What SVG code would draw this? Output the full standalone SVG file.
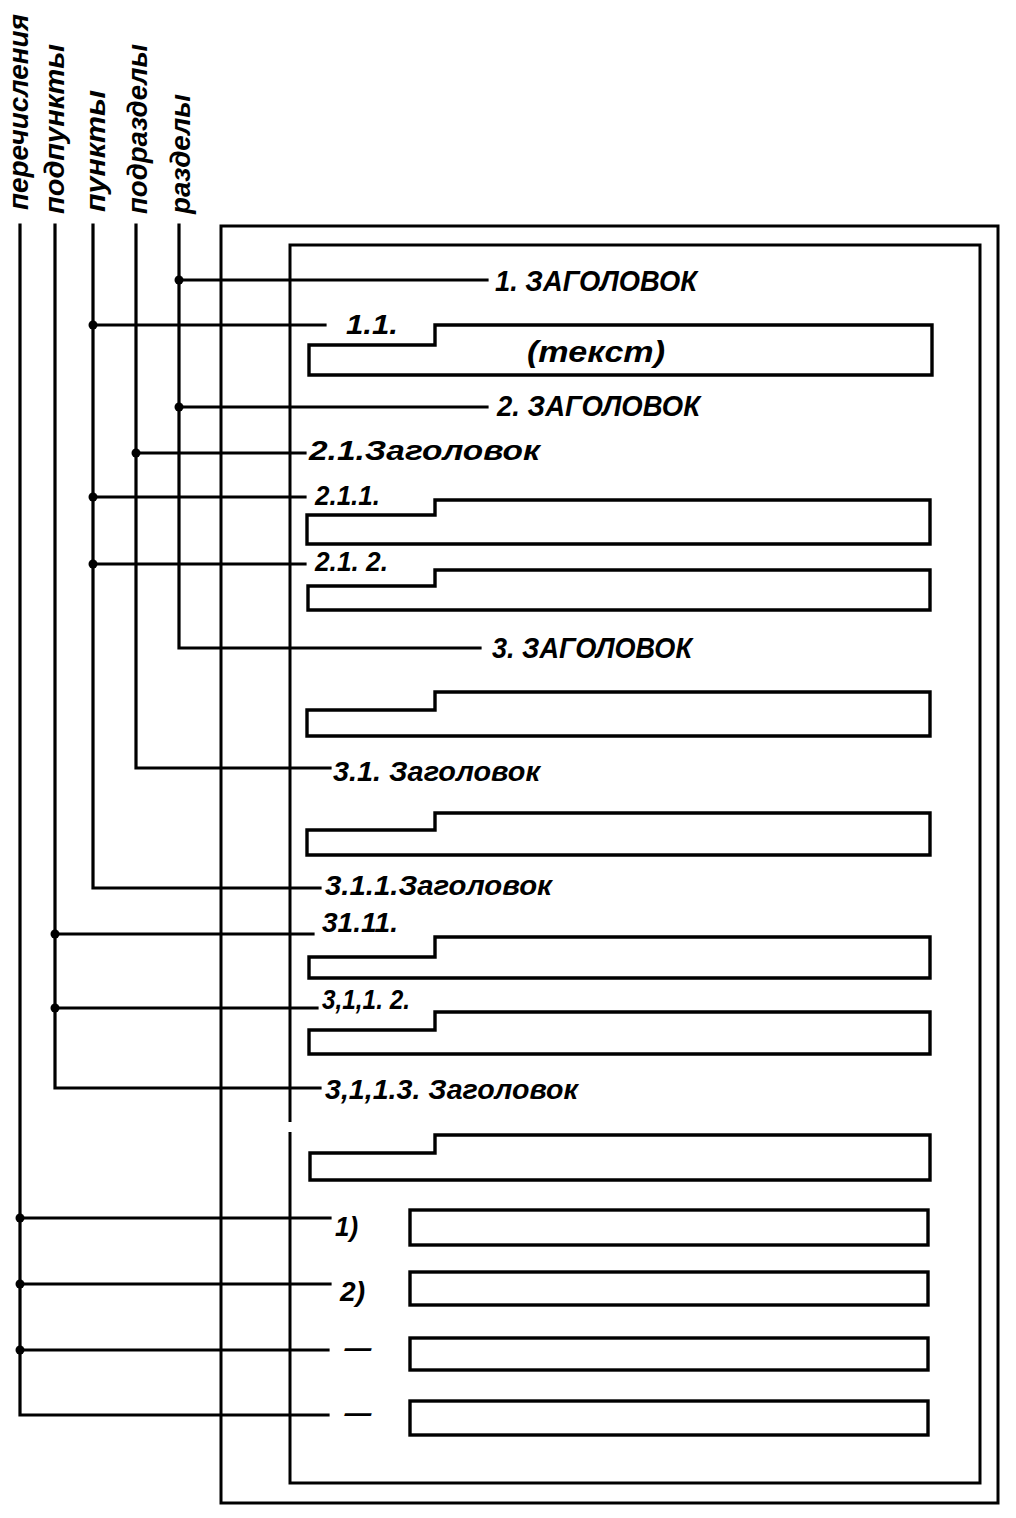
<svg xmlns="http://www.w3.org/2000/svg" width="1016" height="1518" viewBox="0 0 1016 1518">
<style>
.t{font-family:"Liberation Sans",Arial,sans-serif;font-style:italic;font-weight:bold;fill:#000}
.h{font-size:29px}
.s{font-size:27px}
.v{font-size:28px}
.ln{stroke:#000;stroke-width:3.2;fill:none;stroke-linecap:square}
.fr{stroke:#000;stroke-width:3;fill:none}
.bx{stroke:#000;stroke-width:3.4;fill:none;stroke-linejoin:miter}
.dot{fill:#000}
</style>
<rect width="1016" height="1518" fill="#fff"/>
<g id="labels">
<text class="t v" transform="translate(28,210) rotate(-90)" textLength="196" lengthAdjust="spacingAndGlyphs">перечисления</text>
<text class="t v" transform="translate(64,214) rotate(-90)" textLength="170" lengthAdjust="spacingAndGlyphs">подпункты</text>
<text class="t v" transform="translate(105,212) rotate(-90)" textLength="122" lengthAdjust="spacingAndGlyphs">пункты</text>
<text class="t v" transform="translate(147,214) rotate(-90)" textLength="170" lengthAdjust="spacingAndGlyphs">подразделы</text>
<text class="t v" transform="translate(190,214) rotate(-90)" textLength="120" lengthAdjust="spacingAndGlyphs">разделы</text>
</g>
<g id="frame">
<rect class="fr" x="221" y="226" width="777" height="1277"/>
<path class="fr" d="M290 1122 V245 H980 V1483 H290 V1132"/>
</g>
<g id="connectors">
<path class="ln" d="M20 225 V1415 H328"/>
<path class="ln" d="M55 225 V1088 H320"/>
<path class="ln" d="M93 225 V888 H320"/>
<path class="ln" d="M136 225 V768 H330"/>
<path class="ln" d="M179 225 V648 H480"/>
<path class="ln" d="M179 280 H487"/>
<path class="ln" d="M93 325 H325"/>
<path class="ln" d="M179 407 H487"/>
<path class="ln" d="M136 453 H305"/>
<path class="ln" d="M93 497 H305"/>
<path class="ln" d="M93 564 H305"/>
<path class="ln" d="M55 934 H313"/>
<path class="ln" d="M55 1008 H317"/>
<path class="ln" d="M20 1218 H330"/>
<path class="ln" d="M20 1284 H330"/>
<path class="ln" d="M20 1350 H328"/>
<circle class="dot" cx="179" cy="280" r="4.5"/>
<circle class="dot" cx="93" cy="325" r="4.5"/>
<circle class="dot" cx="179" cy="407" r="4.5"/>
<circle class="dot" cx="136" cy="453" r="4.5"/>
<circle class="dot" cx="93" cy="497" r="4.5"/>
<circle class="dot" cx="93" cy="564" r="4.5"/>
<circle class="dot" cx="55" cy="934" r="4.5"/>
<circle class="dot" cx="55" cy="1008" r="4.5"/>
<circle class="dot" cx="20" cy="1218" r="4.5"/>
<circle class="dot" cx="20" cy="1284" r="4.5"/>
<circle class="dot" cx="20" cy="1350" r="4.5"/>
</g>
<g id="n1"><text class="t h" x="495" y="291" textLength="202" lengthAdjust="spacingAndGlyphs">1. ЗАГОЛОВОК</text></g>
<g id="n1-1">
<text class="t s" x="346" y="334" textLength="52" lengthAdjust="spacingAndGlyphs">1.1.</text>
<path class="bx" d="M309 345 H435 V325 H932 V375 H309 Z"/>
<text class="t h" x="527" y="362" textLength="138" lengthAdjust="spacingAndGlyphs">(текст)</text>
</g>
<g id="n2"><text class="t h" x="497" y="416" textLength="203" lengthAdjust="spacingAndGlyphs">2. ЗАГОЛОВОК</text></g>
<g id="n2-1"><text class="t s" x="309" y="460" textLength="231" lengthAdjust="spacingAndGlyphs">2.1.Заголовок</text></g>
<g id="n2-1-1">
<text class="t s" x="315" y="505" textLength="65" lengthAdjust="spacingAndGlyphs">2.1.1.</text>
<path class="bx" d="M307 515 H435 V500 H930 V544 H307 Z"/>
</g>
<g id="n2-1-2">
<text class="t s" x="315" y="571" textLength="73" lengthAdjust="spacingAndGlyphs">2.1. 2.</text>
<path class="bx" d="M308 586 H435 V570 H930 V610 H308 Z"/>
</g>
<g id="n3"><text class="t h" x="492" y="658" textLength="200" lengthAdjust="spacingAndGlyphs">3. ЗАГОЛОВОК</text></g>
<g id="n3-text"><path class="bx" d="M307 710 H435 V692 H930 V736 H307 Z"/></g>
<g id="n3-1"><text class="t s" x="333" y="781" textLength="207" lengthAdjust="spacingAndGlyphs">3.1. Заголовок</text></g>
<g id="n3-1-text"><path class="bx" d="M307 830 H435 V813 H930 V855 H307 Z"/></g>
<g id="n3-1-1"><text class="t s" x="325" y="895" textLength="227" lengthAdjust="spacingAndGlyphs">3.1.1.Заголовок</text></g>
<g id="n3-1-1-1">
<text class="t s" x="322" y="932" textLength="76" lengthAdjust="spacingAndGlyphs">31.11.</text>
<path class="bx" d="M309 957 H435 V937 H930 V978 H309 Z"/>
</g>
<g id="n3-1-1-2">
<text class="t s" x="322" y="1009" textLength="88" lengthAdjust="spacingAndGlyphs">3,1,1. 2.</text>
<path class="bx" d="M309 1030 H435 V1012 H930 V1054 H309 Z"/>
</g>
<g id="n3-1-1-3">
<text class="t s" x="325" y="1099" textLength="253" lengthAdjust="spacingAndGlyphs">3,1,1.3. Заголовок</text>
<path class="bx" d="M310 1153 H435 V1135 H930 V1180 H310 Z"/>
</g>
<g id="e1">
<text class="t s" x="335" y="1236" textLength="23" lengthAdjust="spacingAndGlyphs">1)</text>
<rect class="bx" x="410" y="1210" width="518" height="35"/>
</g>
<g id="e2">
<text class="t s" x="340" y="1301" textLength="25" lengthAdjust="spacingAndGlyphs">2)</text>
<rect class="bx" x="410" y="1272" width="518" height="33"/>
</g>
<g id="e3">
<text class="t s" x="343" y="1357" textLength="30" lengthAdjust="spacingAndGlyphs">–</text>
<rect class="bx" x="410" y="1338" width="518" height="32"/>
</g>
<g id="e4">
<text class="t s" x="343" y="1422" textLength="30" lengthAdjust="spacingAndGlyphs">–</text>
<rect class="bx" x="410" y="1401" width="518" height="34"/>
</g>
</svg>
